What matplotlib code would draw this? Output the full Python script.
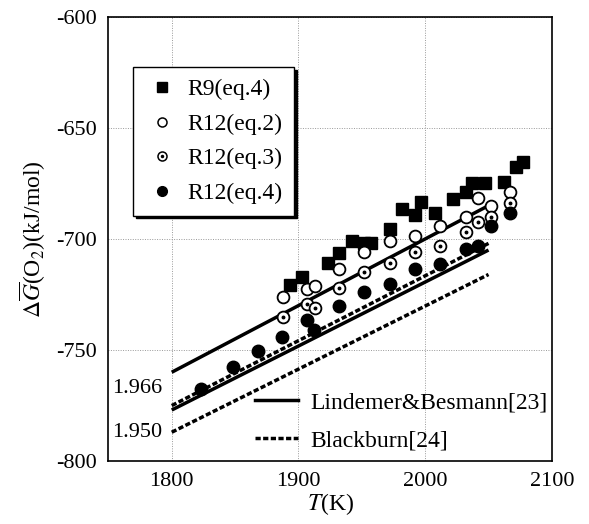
import numpy as np
import matplotlib
matplotlib.use("Agg")
import matplotlib.pyplot as plt
from matplotlib.lines import Line2D
from matplotlib.legend_handler import HandlerTuple

plt.rcParams['font.family'] = ['Liberation Serif', 'DejaVu Serif']
plt.rcParams['mathtext.fontset'] = 'stix'
plt.rcParams['axes.unicode_minus'] = False

# R9 (eq.4)
r9_T = [1893, 1903, 1923, 1932, 1942, 1952, 1957, 1972, 1982, 1992, 1997, 2008,
        2022, 2032, 2037, 2047, 2062, 2072, 2077]
r9_G = [-720.7, -717.3, -710.9, -706.4, -700.8, -701.9, -701.7, -695.3, -686.6, -689.2,
        -683.5, -688.2, -682.1, -679.0, -674.9, -674.9, -674.2, -667.4, -665.2]

# R12, same temperatures for eq.2 and eq.3
r12_T = [1888, 1907, 1913, 1932, 1952, 1972, 1992, 2012, 2032, 2042, 2052, 2067]
r12_eq2 = [-726.3, -722.5, -721.0, -713.5, -705.7, -700.8, -698.5, -694.1, -690.2,
           -681.7, -685.1, -678.7]
r12_eq3 = [-735.3, -729.3, -730.9, -721.9, -715.0, -710.8, -705.7, -703.0, -697.0,
           -692.2, -690.0, -683.9]

# R12 (eq.4)
r12b_T = [1823, 1848, 1868, 1887, 1907, 1912, 1932, 1952, 1972, 1992, 2012, 2032,
          2042, 2052, 2067]
r12_eq4 = [-767.7, -757.5, -750.5, -744.0, -736.5, -741.2, -730.2, -724.0, -720.4,
           -713.6, -711.3, -704.6, -703.2, -694.1, -688.4]

# reference lines, O/U = 1.966 and 1.950
ref_T = [1800, 2050]
lb_1966 = [-760, -685]
lb_1950 = [-777, -705]
bb_1966 = [-775, -702]
bb_1950 = [-787, -716]

fig = plt.figure(figsize=(5.89, 5.24), dpi=100)
ax = fig.add_axes([0.184, 0.120, 0.753, 0.848])

lw = 2.5
dash = (0, (1.5, 0.7))
ax.plot(ref_T, lb_1966, color='black', lw=lw, solid_capstyle='butt')
ax.plot(ref_T, lb_1950, color='black', lw=lw, solid_capstyle='butt')
ax.plot(ref_T, bb_1966, color='black', lw=lw, linestyle=dash)
ax.plot(ref_T, bb_1950, color='black', lw=lw, linestyle=dash)

ax.plot(r9_T, r9_G, 's', color='black', ms=9, zorder=3)
ax.plot(r12_T, r12_eq2, 'o', mfc='white', mec='black', mew=1.3, ms=8.5, zorder=3)
ax.plot(r12_T, r12_eq3, 'o', mfc='white', mec='black', mew=1.3, ms=8.5, zorder=3)
ax.plot(r12_T, r12_eq3, 'o', color='black', ms=1.8, zorder=4)
ax.plot(r12b_T, r12_eq4, 'o', color='black', ms=9, zorder=3)

ax.text(1753, -767.5, '1.966', fontsize=16, va='center', ha='left')
ax.text(1753, -787, '1.950', fontsize=16, va='center', ha='left')

ax.set_xlim(1750, 2100)
ax.set_ylim(-800, -600)
ax.set_xticks([1800, 1900, 2000, 2100])
ax.set_yticks([-800, -750, -700, -650, -600])
ax.tick_params(length=0, labelsize=16, pad=8)
ax.grid(True, color='#999999', linestyle=(0, (1, 1.5)), lw=0.7)
for s in ax.spines.values():
    s.set_linewidth(1.2)

ax.set_xlabel('$T$(K)', fontsize=17, labelpad=0)
ax.set_ylabel(r'$\Delta\overline{G}$(O$_2$)(kJ/mol)', fontsize=17, labelpad=6)

# legend for the measured points
h_sq = Line2D([], [], marker='s', color='black', ls='none', ms=7)
h_open = Line2D([], [], marker='o', mfc='white', mec='black', mew=1.1, ls='none', ms=6.5)
h_dot = Line2D([], [], marker='o', color='black', ls='none', ms=1.5)
h_fill = Line2D([], [], marker='o', color='black', ls='none', ms=7)
leg1 = ax.legend([h_sq, h_open, (h_open, h_dot), h_fill],
                 ['R9(eq.4)', 'R12(eq.2)', 'R12(eq.3)', 'R12(eq.4)'],
                 handler_map={tuple: HandlerTuple(ndivide=1, pad=0)},
                 loc='upper left', bbox_to_anchor=(0.055, 0.887), borderaxespad=0,
                 fontsize=17, fancybox=False, edgecolor='black', framealpha=1,
                 shadow={'color': 'black', 'alpha': 1, 'ox': 2, 'oy': -2},
                 handlelength=1.5, handletextpad=0.3, labelspacing=0.55,
                 borderpad=0.5)
leg1.get_frame().set_linewidth(1.0)
ax.add_artist(leg1)

# legend for the reference lines
h_lb = Line2D([], [], color='black', lw=lw)
h_bb = Line2D([], [], color='black', lw=lw, linestyle=dash)
ax.legend([h_lb, h_bb], ['Lindemer&Besmann[23]', 'Blackburn[24]'],
          loc='lower left', bbox_to_anchor=(0.31, 0.0), borderaxespad=0,
          frameon=False, fontsize=17, handlelength=1.82, handletextpad=0.5,
          labelspacing=0.7)

fig.savefig('out.png', dpi=100)
